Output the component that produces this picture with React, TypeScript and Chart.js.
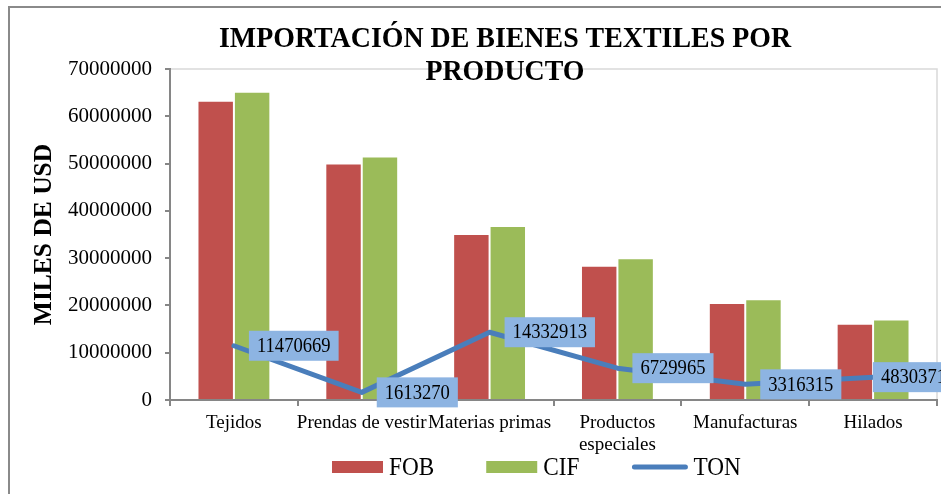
import React, { useEffect, useRef } from "react";
import { Chart, registerables } from "chart.js";

Chart.register(...registerables);

const categories: (string | string[])[] = [
  "Tejidos",
  "Prendas de vestir",
  "Materias primas",
  ["Productos", "especiales"],
  "Manufacturas",
  "Hilados",
];
const fobValues = [63300000, 50000000, 35100000, 28400000, 20500000, 16100000];
const cifValues = [65200000, 51500000, 36800000, 30000000, 21300000, 17000000];
const tonValues = [11470669, 1613270, 14332913, 6729965, 3316315, 4830371];
const seriesNames = ["FOB", "CIF", "TON"];
const titleLines = ["IMPORTACIÓN DE BIENES TEXTILES POR", "PRODUCTO"];
const yAxisTitle = "MILES DE USD";
const yMin = 0;
const yMax = 70000000;
const yStep = 10000000;

const FONT = '"Liberation Serif", "Times New Roman", serif';
const COLORS = { fob: "#C0504D", cif: "#9BBB59", ton: "#4A7EBB", label: "#8DB4E2", axis: "#868686" };
const SQUISH = 0.93;

function squishText(ctx: CanvasRenderingContext2D, text: string, x: number, y: number, align: "left" | "center") {
  const w = ctx.measureText(text).width * SQUISH;
  const left = align === "center" ? x - w / 2 : x;
  ctx.save();
  ctx.translate(left, y);
  ctx.scale(SQUISH, 1);
  ctx.textAlign = "left";
  ctx.fillText(text, 0, 0);
  ctx.restore();
  return w;
}

const decorPlugin = {
  id: "decor",
  beforeDraw(chart: any) {
    const { ctx, chartArea } = chart;
    ctx.save();
    ctx.fillStyle = "#ffffff";
    ctx.fillRect(0, 0, chart.width, chart.height);
    ctx.strokeStyle = "#8a8a8a";
    ctx.lineWidth = 2;
    ctx.strokeRect(9, 7, chart.width + 50, chart.height + 50);
    ctx.strokeStyle = "#D9D9D9";
    ctx.lineWidth = 1.5;
    ctx.beginPath();
    ctx.moveTo(chartArea.left, chartArea.top);
    ctx.lineTo(chartArea.right, chartArea.top);
    ctx.lineTo(chartArea.right, chartArea.bottom);
    ctx.stroke();
    ctx.restore();
  },
  afterDatasetsDraw(chart: any) {
    const { ctx, chartArea } = chart;
    const meta = chart.getDatasetMeta(2);
    ctx.save();
    ctx.font = `20px ${FONT}`;
    ctx.textBaseline = "middle";
    meta.data.forEach((pt: any, i: number) => {
      const txt = String(tonValues[i]);
      const w = ctx.measureText(txt).width * SQUISH + 16;
      const h = 30;
      const x = Math.min(pt.x + 15, chartArea.right + 17 - w);
      const y = pt.y - h / 2;
      ctx.fillStyle = COLORS.label;
      ctx.fillRect(x, y, w, h);
      ctx.fillStyle = "#000";
      squishText(ctx, txt, x + 8, pt.y + 1, "left");
    });
    ctx.restore();
  },
  afterDraw(chart: any) {
    const { ctx } = chart;
    ctx.save();
    ctx.fillStyle = "#000";
    ctx.font = `bold 30px ${FONT}`;
    ctx.textBaseline = "alphabetic";
    const cx = 505;
    squishText(ctx, titleLines[0], cx, 47, "center");
    squishText(ctx, titleLines[1], cx, 80, "center");
    // legend
    ctx.font = `25px ${FONT}`;
    let x = 332;
    const yMid = 467;
    const colors = [COLORS.fob, COLORS.cif, COLORS.ton];
    seriesNames.forEach((name, i) => {
      if (i < 2) {
        ctx.fillStyle = colors[i];
        ctx.fillRect(x, yMid - 6, 51, 12);
        x += 51;
      } else {
        ctx.strokeStyle = colors[i];
        ctx.lineWidth = 5;
        ctx.lineCap = "round";
        ctx.beginPath();
        ctx.moveTo(x + 3, yMid);
        ctx.lineTo(x + 54, yMid);
        ctx.stroke();
        x += 56;
      }
      x += 6;
      ctx.fillStyle = "#000";
      const tw = squishText(ctx, name, x, yMid + 8, "left");
      x += tw + 52;
    });
    ctx.restore();
  },
};

export default function App() {
  const ref = useRef<HTMLCanvasElement | null>(null);
  useEffect(() => {
    if (!ref.current) return;
    const chart = new Chart(ref.current, {
      type: "bar",
      data: {
        labels: categories as any,
        datasets: [
          {
            type: "bar",
            label: seriesNames[0],
            data: fobValues,
            backgroundColor: COLORS.fob,
            borderColor: "rgba(255,255,255,0.5)",
            borderWidth: 1,
          },
          {
            type: "bar",
            label: seriesNames[1],
            data: cifValues,
            backgroundColor: COLORS.cif,
            borderColor: "rgba(255,255,255,0.5)",
            borderWidth: 1,
          },
          {
            type: "line",
            label: seriesNames[2],
            data: tonValues,
            borderColor: COLORS.ton,
            backgroundColor: COLORS.ton,
            borderWidth: 5,
            pointRadius: 0,
            tension: 0,
            borderJoinStyle: "round",
            borderCapStyle: "round",
            order: -1,
          } as any,
        ],
      },
      options: {
        animation: false,
        responsive: false,
        devicePixelRatio: 1,
        layout: { padding: { top: 69, right: 4, left: 0, bottom: 0 } },
        datasets: { bar: { categoryPercentage: 0.57, barPercentage: 1 } } as any,
        plugins: {
          legend: { display: false },
          title: { display: false },
          tooltip: { enabled: false },
        },
        scales: {
          x: {
            grid: {
              offset: true,
              drawOnChartArea: false,
              drawTicks: true,
              tickLength: 6,
              color: COLORS.axis,
              lineWidth: 2,
            },
            border: { display: true, color: COLORS.axis, width: 2 },
            ticks: {
              color: "#000",
              font: { family: FONT, size: 19, lineHeight: 1.15 },
              maxRotation: 0,
              minRotation: 0,
              autoSkip: false,
              padding: 6,
            },
            afterFit: (scale: any) => {
              scale.height = 94;
            },
          },
          y: {
            min: yMin,
            max: yMax,
            ticks: {
              stepSize: yStep,
              color: "#000",
              font: { family: FONT, size: 21 },
              padding: 13,
              callback: (v: any) => String(v),
            },
            grid: {
              drawOnChartArea: false,
              drawTicks: true,
              tickLength: 5,
              color: COLORS.axis,
              lineWidth: 2,
            },
            border: { display: true, color: COLORS.axis, width: 2 },
            title: {
              display: true,
              text: yAxisTitle,
              color: "#000",
              font: { family: FONT, size: 25.5, weight: "bold" },
              padding: { top: 29, bottom: 0 },
            },
            afterFit: (scale: any) => {
              scale.width = 170;
            },
          },
        },
      },
      plugins: [decorPlugin],
    });
    return () => chart.destroy();
  }, []);
  return (
    <div style={{ position: "absolute", left: 0, top: 0, width: 941, height: 494 }}>
      <canvas ref={ref} width={941} height={494} style={{ display: "block" }} />
    </div>
  );
}
